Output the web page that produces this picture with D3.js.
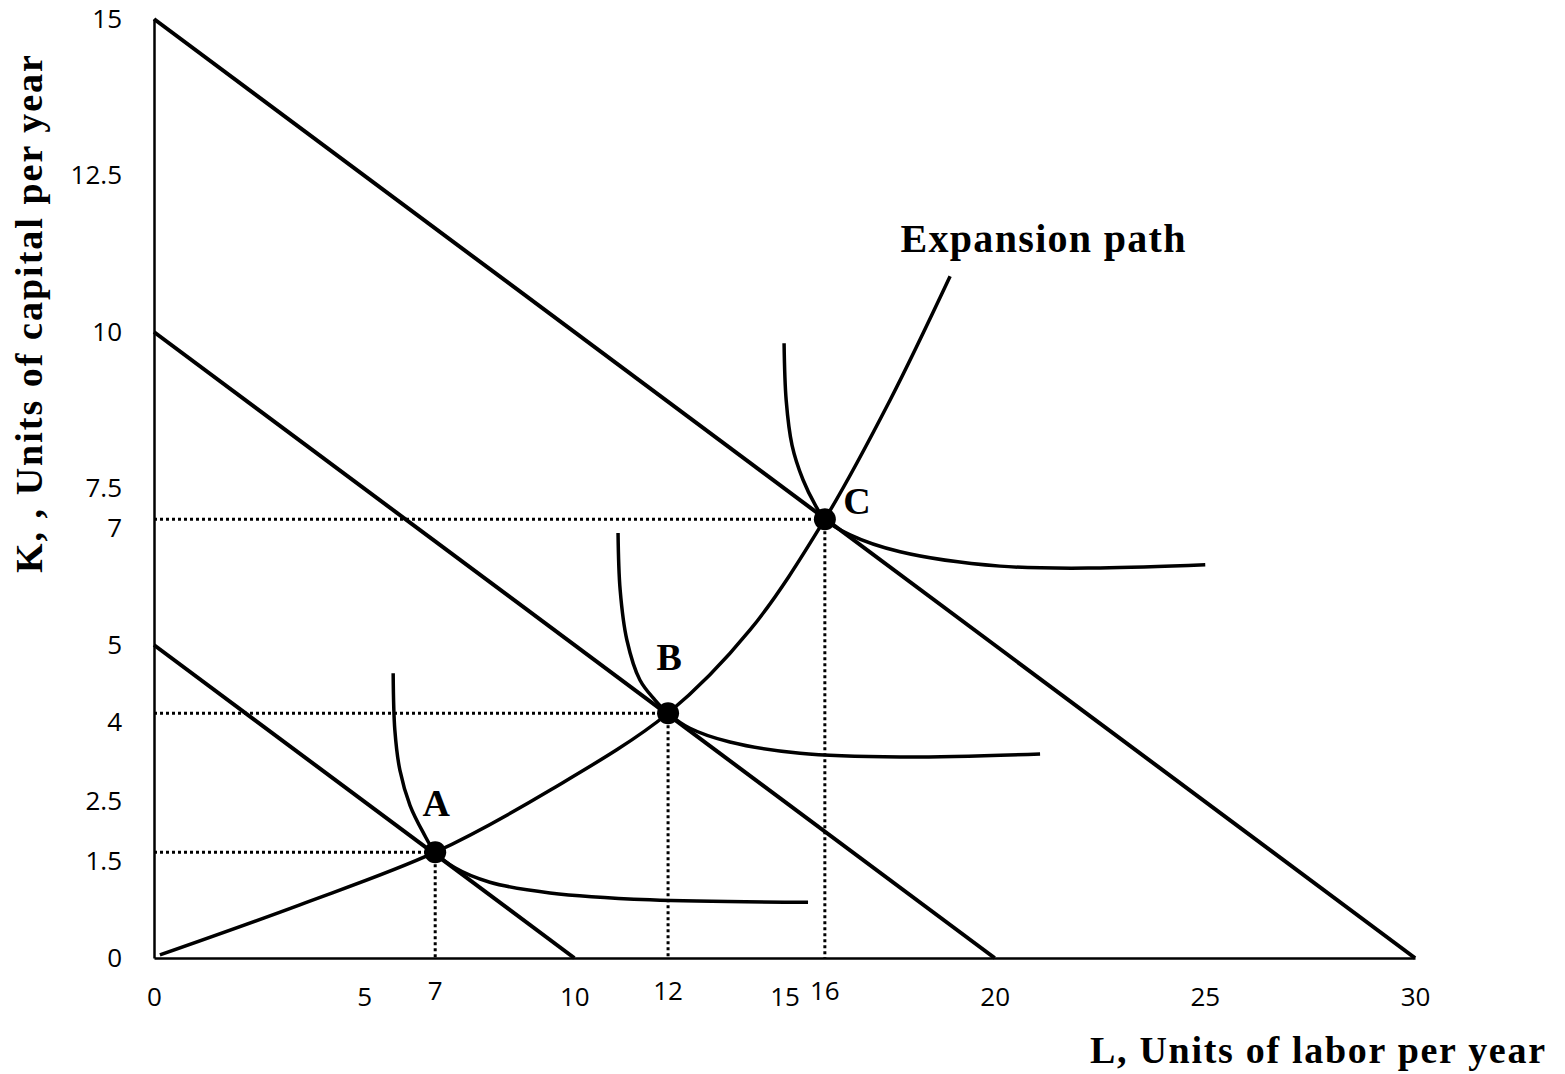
<!DOCTYPE html>
<html>
<head>
<meta charset="utf-8">
<script src="https://cdn.jsdelivr.net/npm/d3@7"></script>
<style>
  body { margin: 0; background: #fff; }
  svg { display: block; }
</style>
</head>
<body>
<div id="frame"></div>
<script>
const width = 1565
const height = 1074
const margin = { left: 154, right: 150, top: 19, bottom: 116 }

// data
const lDomain = [0, 30]
const kDomain = [0, 15]
const lTicks = [0, 5, 10, 15, 20, 25, 30]
const kTicks = [0, 2.5, 5, 7.5, 10, 12.5, 15]
// isocost lines: [K intercept, L intercept]
const isocosts = [[5, 10], [10, 20], [15, 30]]
const optimaNames = ['A', 'B', 'C']
const optimaL = [6.69, 12.23, 15.96]
const optimaK = [1.69, 3.91, 7.01]
const optimaLLabels = ['7', '12', '16']
const optimaKLabels = ['1.5', '4', '7']

const isoquantA = [[5.69, 4.55], [5.73, 3.64], [5.85, 3.0], [6.09, 2.44], [6.4, 2.01], [6.69, 1.69],
  [7.16, 1.44], [7.99, 1.21], [9.42, 1.04], [11.8, 0.93], [15.56, 0.89]]
const isoquantB = [[11.04, 6.79], [11.09, 5.88], [11.25, 5.08], [11.56, 4.44], [11.92, 4.12], [12.23, 3.91],
  [12.75, 3.67], [13.7, 3.45], [15.37, 3.27], [17.75, 3.21], [21.08, 3.26]]
const isoquantC = [[14.99, 9.82], [15.04, 8.91], [15.18, 8.19], [15.44, 7.64], [15.73, 7.24], [15.96, 7.01],
  [16.56, 6.76], [17.75, 6.49], [20.13, 6.26], [22.51, 6.23], [25.01, 6.28]]
const expansionPath = [[0.14, 0.05], [3.47, 0.85], [6.69, 1.69], [9.42, 2.68], [12.23, 3.91],
  [14.18, 5.24], [15.96, 7.01], [17.51, 8.91], [18.94, 10.89]]

const x = d3.scaleLinear().domain(lDomain).range([margin.left, width - margin.right])
const y = d3.scaleLinear().domain(kDomain).range([height - margin.bottom, margin.top])

const svg = d3.select('#frame').append('svg')
  .attr('width', width)
  .attr('height', height)

const tickFont = '"Open Sans", "Liberation Sans", sans-serif'
const tickSize = 26
const titleFont = '"Liberation Serif", "DejaVu Serif", serif'

// axes
const xAxis = svg.append('g')
  .attr('transform', `translate(0,${y(0)})`)
  .call(d3.axisBottom(x).tickValues(lTicks).tickSize(0).tickPadding(30).tickFormat(d3.format('')))
const yAxis = svg.append('g')
  .attr('transform', `translate(${x(0)},0)`)
  .call(d3.axisLeft(y).tickValues(kTicks).tickSize(0).tickPadding(32).tickFormat(d3.format('')))

;[xAxis, yAxis].forEach(g => {
  g.select('.domain').attr('stroke', '#000').attr('stroke-width', 2.5)
  g.selectAll('text').attr('font-family', tickFont).attr('font-size', tickSize).attr('fill', '#000')
})

// extra tick labels at the optimal points
svg.append('g').selectAll('text')
  .data(optimaLLabels)
  .join('text')
  .attr('x', (d, i) => x(optimaL[i]))
  .attr('y', y(0) + 42)
  .attr('text-anchor', 'middle')
  .attr('font-family', tickFont)
  .attr('font-size', tickSize)
  .text(d => d)

svg.append('g').selectAll('text')
  .data(optimaKLabels)
  .join('text')
  .attr('x', x(0) - 32)
  .attr('y', (d, i) => y(optimaK[i]) + 18)
  .attr('text-anchor', 'end')
  .attr('font-family', tickFont)
  .attr('font-size', tickSize)
  .text(d => d)

// dotted guides
const guides = svg.append('g')
  .attr('stroke', '#000')
  .attr('stroke-width', 3)
  .attr('stroke-dasharray', '3,3')
optimaL.forEach((l, i) => {
  guides.append('line')
    .attr('x1', x(0)).attr('x2', x(l))
    .attr('y1', y(optimaK[i])).attr('y2', y(optimaK[i]))
  guides.append('line')
    .attr('x1', x(l)).attr('x2', x(l))
    .attr('y1', y(optimaK[i])).attr('y2', y(0))
})

// isocost lines
svg.append('g').selectAll('line')
  .data(isocosts)
  .join('line')
  .attr('x1', x(0))
  .attr('y1', d => y(d[0]))
  .attr('x2', d => x(d[1]))
  .attr('y2', y(0))
  .attr('stroke', '#000')
  .attr('stroke-width', 4)

// isoquants + expansion path
const curve = d3.line()
  .x(d => x(d[0]))
  .y(d => y(d[1]))
  .curve(d3.curveCatmullRom.alpha(0.5))

svg.append('g').selectAll('path')
  .data([isoquantA, isoquantB, isoquantC, expansionPath])
  .join('path')
  .attr('d', curve)
  .attr('fill', 'none')
  .attr('stroke', '#000')
  .attr('stroke-width', 3.5)

// optimal points
svg.append('g').selectAll('circle')
  .data(optimaNames)
  .join('circle')
  .attr('cx', (d, i) => x(optimaL[i]))
  .attr('cy', (d, i) => y(optimaK[i]))
  .attr('r', 11)
  .attr('fill', '#000')

const labelOffset = { A: [1, -36], B: [1, -43], C: [32, -5] }
svg.append('g').selectAll('text')
  .data(optimaNames)
  .join('text')
  .attr('x', (d, i) => x(optimaL[i]) + labelOffset[d][0])
  .attr('y', (d, i) => y(optimaK[i]) + labelOffset[d][1])
  .attr('text-anchor', 'middle')
  .attr('font-family', titleFont)
  .attr('font-weight', 'bold')
  .attr('font-size', 38)
  .text(d => d)

// titles
svg.append('text')
  .attr('x', 1043)
  .attr('y', 252)
  .attr('text-anchor', 'middle')
  .attr('font-family', titleFont)
  .attr('font-weight', 'bold')
  .attr('font-size', 40)
  .attr('textLength', 285)
  .text('Expansion path')

svg.append('text')
  .attr('x', 1545)
  .attr('y', 1063)
  .attr('text-anchor', 'end')
  .attr('font-family', titleFont)
  .attr('font-weight', 'bold')
  .attr('font-size', 38)
  .attr('textLength', 455)
  .text('L, Units of labor per year')

svg.append('text')
  .attr('transform', 'translate(42,314) rotate(-90)')
  .attr('text-anchor', 'middle')
  .attr('font-family', titleFont)
  .attr('font-weight', 'bold')
  .attr('font-size', 38)
  .attr('textLength', 518)
  .text('K, , Units of capital per year')
</script>
</body>
</html>
